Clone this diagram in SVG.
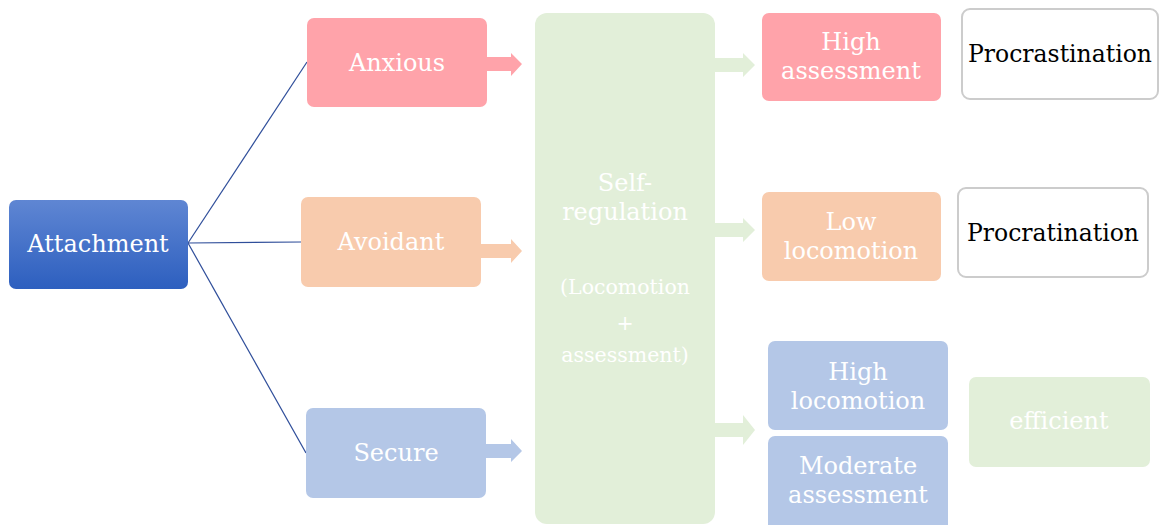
<svg xmlns="http://www.w3.org/2000/svg" width="1159" height="525" viewBox="0 0 1159 525">
<defs>
<linearGradient id="blueGrad" x1="0" y1="0" x2="0" y2="1">
<stop offset="0" stop-color="#5f86d3"/>
<stop offset="1" stop-color="#2d5fbf"/>
</linearGradient>
<style>
.t{font-family:"DejaVu Serif","Liberation Serif",serif;font-size:24px;text-anchor:middle;fill:#ffffff}
.tb{font-family:"DejaVu Serif","Liberation Serif",serif;font-size:23.5px;text-anchor:middle;fill:#000000}
.ts{font-family:"DejaVu Serif","Liberation Serif",serif;font-size:20.5px;text-anchor:middle;fill:#ffffff}
.pink{fill:#ffa3aa}
.peach{fill:#f8cbad}
.blue{fill:#b4c7e7}
.green{fill:#e2efd9}
.white{fill:#ffffff;stroke:#cccccc;stroke-width:2}
.line{stroke:#2f4e9a;stroke-width:1.2;fill:none}
</style>
</defs>
<g id="connectors">
<line class="line" x1="188" y1="243" x2="307" y2="62"/>
<line class="line" x1="188" y1="243" x2="301" y2="242"/>
<line class="line" x1="188" y1="243" x2="306" y2="453"/>
<polygon class="pink" points="487,57 511,57 511,53 522,64 511,76 511,71 487,71"/>
<polygon class="peach" points="481,244 511,244 511,239 522,251 511,263 511,258 481,258"/>
<polygon class="blue" points="486,444 511,444 511,439 522,451 511,462 511,458 486,458"/>
<polygon class="green" points="715,58 743,58 743,53 755,65 743,77 743,72 715,72"/>
<polygon class="green" points="715,223 743,223 743,218 755,230 743,242 743,237 715,237"/>
<polygon class="green" points="715,423 743,423 743,415 755,430 743,445 743,437 715,437"/>
</g>
<g id="attachment">
<rect x="9" y="200" width="179" height="89" rx="7" fill="url(#blueGrad)"/>
<text class="t" x="98" y="252">Attachment</text>
</g>
<g id="anxious">
<rect class="pink" x="307" y="18" width="180" height="89" rx="7"/>
<text class="t" x="397" y="71">Anxious</text>
</g>
<g id="avoidant">
<rect class="peach" x="301" y="197" width="180" height="90" rx="7"/>
<text class="t" x="391" y="250">Avoidant</text>
</g>
<g id="secure">
<rect class="blue" x="306" y="408" width="180" height="90" rx="7"/>
<text class="t" x="396" y="461">Secure</text>
</g>
<g id="self-regulation">
<rect class="green" x="535" y="13" width="180" height="511" rx="12"/>
<text class="t" x="625" y="191">Self-</text>
<text class="t" x="625" y="220">regulation</text>
<text class="ts" x="625" y="294">(Locomotion</text>
<text class="ts" x="625" y="330">+</text>
<text class="ts" x="625" y="362">assessment)</text>
</g>
<g id="high-assessment">
<rect class="pink" x="762" y="13" width="179" height="88" rx="7"/>
<text class="t" x="851" y="50">High</text>
<text class="t" x="851" y="79">assessment</text>
</g>
<g id="procrastination">
<rect class="white" x="962" y="9" width="196" height="90" rx="8"/>
<text class="tb" x="1060" y="62">Procrastination</text>
</g>
<g id="low-locomotion">
<rect class="peach" x="762" y="192" width="179" height="89" rx="7"/>
<text class="t" x="851" y="230">Low</text>
<text class="t" x="851" y="259">locomotion</text>
</g>
<g id="procratination">
<rect class="white" x="958" y="188" width="190" height="89" rx="8"/>
<text class="tb" x="1053" y="241">Procratination</text>
</g>
<g id="high-locomotion">
<rect class="blue" x="768" y="341" width="180" height="89" rx="7"/>
<text class="t" x="858" y="380">High</text>
<text class="t" x="858" y="409">locomotion</text>
</g>
<g id="moderate-assessment">
<rect class="blue" x="768" y="436" width="180" height="95" rx="7"/>
<text class="t" x="858" y="474">Moderate</text>
<text class="t" x="858" y="503">assessment</text>
</g>
<g id="efficient">
<rect class="green" x="969" y="377" width="181" height="90" rx="7"/>
<text class="t" x="1059" y="429">efficient</text>
</g>
</svg>
